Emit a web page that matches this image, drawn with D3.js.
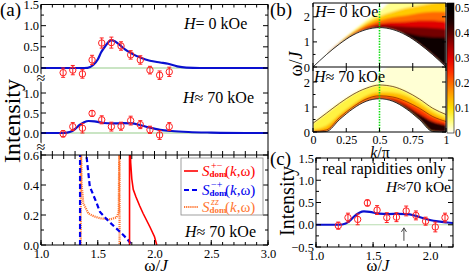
<!DOCTYPE html>
<html>
<head>
<meta charset="utf-8">
<script src="https://cdn.jsdelivr.net/npm/d3@7"></script>
<style>
  body { margin: 0; background: #fff; }
  text { font-family: "Liberation Serif", "Times New Roman", serif; }
</style>
</head>
<body>
<svg id="fig" width="469" height="274"></svg>
<script>
// measured points, panels (a) and (c)
const ptOmega = [1.195, 1.28, 1.365, 1.45, 1.535, 1.62, 1.705, 1.79, 1.875, 1.96, 2.045, 2.13];
const ptZero = [-0.11, -0.05, -0.14, 0.19, 0.59, 0.60, 0.52, 0.31, 0.19, -0.05, -0.17, -0.09];
const errZero = [0.11, 0.11, 0.10, 0.11, 0.12, 0.13, 0.10, 0.10, 0.10, 0.09, 0.10, 0.11];
const ptHigh = [-0.02, 0.16, 0.12, 0.49, 0.33, 0.16, 0.17, 0.31, 0.21, 0.08, -0.05, 0.16];
const errHigh = [0.08, 0.10, 0.12, 0.07, 0.10, 0.11, 0.10, 0.11, 0.10, 0.09, 0.11, 0.10];

// theory curves (blue)
const fitZeroX = [1.0, 1.35, 1.41, 1.46, 1.5, 1.53, 1.57, 1.6, 1.62, 1.65, 1.69, 1.74, 1.8, 1.88, 1.96, 2.05, 2.12, 2.2, 2.28, 2.4, 3.0];
const fitZeroY = [0, 0, 0.005, 0.07, 0.2, 0.37, 0.53, 0.63, 0.66, 0.63, 0.55, 0.44, 0.34, 0.24, 0.17, 0.13, 0.1, 0.04, 0.01, 0, 0];
const fitHighX = [1.0, 1.2, 1.26, 1.3, 1.34, 1.38, 1.42, 1.47, 1.55, 1.63, 1.72, 1.8, 1.87, 1.95, 2.05, 2.15, 2.3, 2.5, 2.8, 3.0];
const fitHighY = [0, 0, 0.03, 0.1, 0.2, 0.27, 0.3, 0.29, 0.25, 0.24, 0.245, 0.24, 0.2, 0.14, 0.08, 0.05, 0.025, 0.01, 0, 0];

// dynamical structure factors, bottom of (a)
const pmX = [1.78, 1.78, 1.785, 1.79, 1.80, 1.813, 1.837, 1.87, 1.90, 1.96, 2.0, 2.02];
const pmY = [0, 0.7, 0.7, 0.55, 0.44, 0.37, 0.32, 0.26, 0.21, 0.12, 0.055, 0];
const mpX = [1.344, 1.344, 1.395, 1.40, 1.43, 1.49, 1.52, 1.60, 1.70, 1.76, 1.80];
const mpY = [0, 0.7, 0.7, 0.6, 0.39, 0.28, 0.22, 0.155, 0.085, 0.04, 0];
const zzX = [1.35, 1.35, 1.353, 1.358, 1.373, 1.417, 1.47, 1.52, 1.608, 1.667, 1.685, 1.69, 1.692, 1.692];
const zzY = [0, 0.7, 0.7, 0.4, 0.278, 0.21, 0.19, 0.178, 0.171, 0.184, 0.22, 0.7, 0.7, 0];

// panel (b): continuum read as contour bands (upper omega of each level)
const kGrid = [0, 0.1, 0.2, 0.3, 0.4, 0.5, 0.6, 0.7, 0.8, 0.9, 1];
const zeroEdge = [0, 0.49, 0.92, 1.27, 1.49, 1.57, 1.49, 1.27, 0.92, 0.49, 0];
const zeroLevels = [0.04, 0.12, 0.2, 0.3, 0.38, 0.47];
const zeroTops = [
  [0, 0.5, 0.98, 1.43, 1.85, 2.22, 2.6, 2.6, 2.6, 2.6, 2.6],
  [0, 0.49, 0.96, 1.38, 1.75, 2.02, 2.2, 2.35, 2.45, 2.55, 2.6],
  [0, 0.49, 0.95, 1.34, 1.65, 1.85, 1.98, 2.05, 2.15, 2.2, 2.2],
  [0, 0.49, 0.94, 1.31, 1.57, 1.72, 1.78, 1.8, 1.85, 1.85, 1.8],
  [0, 0.49, 0.93, 1.29, 1.53, 1.65, 1.64, 1.6, 1.58, 1.55, 1.5],
  [0, 0.49, 0.93, 1.28, 1.51, 1.61, 1.5, 1.36, 1.25, 1.2, 1.18]
];
const highEdge = [0, 0.02, 0.5, 0.93, 1.23, 1.33, 1.23, 0.93, 0.5, 0.02, 0];
const highLevels = [0.015, 0.07, 0.13, 0.24, 0.44];
const highTops = [
  [0.4, 0.8, 1.2, 1.52, 1.76, 2.3, 2.7, 2.7, 2.7, 2.7, 2.7],
  [0.35, 0.75, 1.15, 1.5, 1.75, 1.88, 1.82, 1.62, 1.32, 0.95, 0.7],
  [0.1, 0.25, 0.7, 1.1, 1.45, 1.6, 1.58, 1.45, 1.15, 0.8, 0.55],
  [0.02, 0.08, 0.58, 1.0, 1.32, 1.45, 1.4, 1.22, 0.95, 0.62, 0.42],
  [0, 0.02, 0.5, 0.93, 1.24, 1.35, 1.28, 1.05, 0.72, 0.42, 0.28]
];
const cbTicks = [0, 0.1, 0.2, 0.3, 0.4, 0.5];
const arrowAt = 1.77;

const svg = d3.select("#fig");
const defs = svg.append("defs");
const blue = "#0a10d0", red = "#ff2020", orange = "#ff7733", green = "#b9dcb0";

function hTicks(g, scale, vals, y, len) {
  g.append("g").selectAll("line").data(vals).enter().append("line")
    .attr("x1", d => scale(d)).attr("x2", d => scale(d))
    .attr("y1", y).attr("y2", y + len).attr("stroke", "#000");
}
function vTicks(g, scale, vals, x, len) {
  g.append("g").selectAll("line").data(vals).enter().append("line")
    .attr("y1", d => scale(d)).attr("y2", d => scale(d))
    .attr("x1", x).attr("x2", x + len).attr("stroke", "#000");
}
function labels(g, axis, tx, ty, size) {
  const a = g.append("g").attr("transform", `translate(${tx},${ty})`).call(axis);
  a.select(".domain").remove();
  a.selectAll("text").attr("font-size", size).attr("font-family", '"Liberation Serif", serif').attr("fill", "#000");
  return a;
}
function rich(g, x, y, parts, size, anchor) {
  const t = g.append("text").attr("x", x).attr("y", y).attr("font-size", size)
    .attr("text-anchor", anchor || "start");
  parts.forEach(p => t.append("tspan").attr("font-style", p[1] ? "italic" : null).text(p[0]));
  return t;
}
function points(g, x, y, vals, errs) {
  const p = g.append("g").selectAll("g").data(ptOmega).enter().append("g");
  p.append("line").attr("x1", d => x(d)).attr("x2", d => x(d))
    .attr("y1", (d, i) => y(vals[i] - errs[i])).attr("y2", (d, i) => y(vals[i] + errs[i]))
    .attr("stroke", red).attr("stroke-width", 1);
  [-1, 1].forEach(s => p.append("line")
    .attr("x1", d => x(d) - 2).attr("x2", d => x(d) + 2)
    .attr("y1", (d, i) => y(vals[i] + s * errs[i])).attr("y2", (d, i) => y(vals[i] + s * errs[i]))
    .attr("stroke", red));
  p.append("circle").attr("cx", d => x(d)).attr("cy", (d, i) => y(vals[i]))
    .attr("r", 3.2).attr("fill", "none").attr("stroke", red).attr("stroke-width", 1);
}

// ================= panel (a) =================
const xA = d3.scaleLinear().domain([1, 3]).range([41, 268]);
const yTop = d3.scaleLinear().domain([0, 1.5]).range([68, 4.5]);
const yMid = d3.scaleLinear().domain([0, 1]).range([133, 93]);
const yBot = d3.scaleLinear().domain([0, 0.6]).range([245, 155]);
const gA = svg.append("g");

[yTop, yMid].forEach(y => gA.append("line").attr("x1", xA(1)).attr("x2", xA(3))
  .attr("y1", y(0)).attr("y2", y(0)).attr("stroke", green).attr("stroke-width", 1.3));

const fitLine = y => d3.line().x(d => xA(d[0])).y(d => y(d[1])).curve(d3.curveMonotoneX);
gA.append("path").attr("d", fitLine(yTop)(d3.zip(fitZeroX, fitZeroY)))
  .attr("fill", "none").attr("stroke", blue).attr("stroke-width", 2.2);
gA.append("path").attr("d", fitLine(yMid)(d3.zip(fitHighX, fitHighY)))
  .attr("fill", "none").attr("stroke", blue).attr("stroke-width", 2.2);
points(gA, xA, yTop, ptZero, errZero);
points(gA, xA, yMid, ptHigh, errHigh);

defs.append("clipPath").attr("id", "clipBot").append("rect")
  .attr("x", 41).attr("y", 155).attr("width", 227).attr("height", 90);
const sLine = d3.line().x(d => xA(d[0])).y(d => yBot(d[1]));
const gBot = gA.append("g").attr("clip-path", "url(#clipBot)");
gBot.append("path").attr("d", sLine(d3.zip(zzX, zzY))).attr("fill", "none")
  .attr("stroke", orange).attr("stroke-width", 2.2).attr("stroke-dasharray", "1.2,0.9");
gBot.append("path").attr("d", sLine(d3.zip(mpX, mpY))).attr("fill", "none")
  .attr("stroke", "#0000ee").attr("stroke-width", 2.2).attr("stroke-dasharray", "5,3");
gBot.append("path").attr("d", sLine(d3.zip(pmX, pmY))).attr("fill", "none")
  .attr("stroke", "#ff0000").attr("stroke-width", 1.6);

// frame + ticks
gA.append("path").attr("d", "M41,4.5H268V245H41Z M41,155H268").attr("fill", "none").attr("stroke", "#000");
const minorX = d3.range(1, 3.001, 0.1), majorX = [1, 1.5, 2, 2.5, 3];
hTicks(gA, xA, minorX, 4.5, 3); hTicks(gA, xA, majorX, 4.5, 5);
hTicks(gA, xA, minorX, 245, -3); hTicks(gA, xA, majorX, 245, -5);
hTicks(gA, xA, minorX, 151, 8);
[[yTop, [0, 0.5, 1, 1.5], [0.25, 0.75, 1.25]], [yMid, [0, 0.5, 1], [0.25, 0.75]],
 [yBot, [0, 0.2, 0.4, 0.6], [0.1, 0.3, 0.5]]].forEach(([y, maj, min]) => {
  vTicks(gA, y, maj, 41, 5); vTicks(gA, y, min, 41, 3);
  vTicks(gA, y, maj, 268, -5); vTicks(gA, y, min, 268, -3);
  labels(gA, d3.axisLeft(y).tickValues(maj).tickSize(0).tickPadding(2).tickFormat(d3.format(".1f")), 41, 0, 12.5);
});
labels(gA, d3.axisBottom(xA).tickValues(majorX).tickSize(0).tickPadding(4).tickFormat(d3.format(".1f")), 0, 245, 12.5);
[77, 146].forEach(y => gA.append("text").attr("x", 41).attr("y", y + 6).attr("text-anchor", "middle")
  .attr("font-size", 16).attr("stroke", "#fff").attr("stroke-width", 3).attr("paint-order", "stroke").text("≈"));

// legend
gA.append("rect").attr("x", 181).attr("y", 158).attr("width", 82).attr("height", 57)
  .attr("fill", "#fff").attr("stroke", "#888").attr("stroke-width", 0.8);
const legend = [
  { y: 176, color: "#ff0000", sup: "+\u2212", dash: null, w: 1.6 },
  { y: 195, color: "#0000ee", sup: "\u2212+", dash: "5,3", w: 2.2 },
  { y: 212, color: orange, sup: "zz", dash: "1.2,0.9", w: 2.2 }
];
legend.forEach(e => {
  gA.append("line").attr("x1", 184).attr("x2", 198).attr("y1", e.y - 5).attr("y2", e.y - 5)
    .attr("stroke", e.color).attr("stroke-width", e.w).attr("stroke-dasharray", e.dash);
  const t = gA.append("text").attr("fill", e.color).attr("font-size", 15);
  t.append("tspan").attr("x", 202).attr("y", e.y).attr("font-style", "italic").text("S");
  t.append("tspan").attr("x", 211).attr("y", e.y - 7).attr("font-size", 10)
    .attr("font-style", e.sup === "zz" ? "italic" : null).text(e.sup);
  t.append("tspan").attr("x", 209.5).attr("y", e.y + 1).attr("font-size", 9).attr("font-weight", "bold").text("dom");
  t.append("tspan").attr("x", 225).attr("y", e.y).text("(");
  t.append("tspan").attr("font-style", "italic").text("k");
  t.append("tspan").text(",\u03c9)");
});

rich(gA, 184, 29, [["H", 1], ["= 0 kOe"]], 16);
rich(gA, 183, 103, [["H", 1], ["\u2248 70 kOe"]], 16);
rich(gA, 185, 237, [["H", 1], ["\u2248 70 kOe"]], 16);
rich(gA, 156, 271, [["\u03c9/"], ["J", 1]], 17, "middle");
svg.append("text").attr("transform", "translate(20,121) rotate(-90)").attr("text-anchor", "middle")
  .attr("font-size", 24).text("Intensity");
svg.append("text").attr("x", 0).attr("y", 16).attr("font-size", 19).text("(a)");

// ================= panel (b) =================
const xB = d3.scaleLinear().domain([0, 1]).range([313, 446]);
const yB0 = d3.scaleLinear().domain([0, 2.55]).range([67, 3]);
const yB1 = d3.scaleLinear().domain([0, 2.6]).range([132, 67]);
const cmap = d3.scaleLinear()
  .domain([0, 0.05, 0.1, 0.15, 0.2, 0.25, 0.3, 0.35, 0.4, 0.45, 0.5])
  .range(["#ffffff", "#ffff70", "#ffe000", "#ffa800", "#ff6a00", "#ff2800", "#e00000", "#a00000", "#560000", "#180000", "#000000"])
  .clamp(true);
const gB = svg.append("g");
const blur = defs.append("filter").attr("id", "soft").attr("x", "-5%").attr("y", "-5%").attr("width", "110%").attr("height", "110%");
blur.append("feGaussianBlur").attr("stdDeviation", 1);

const kLine = y => d3.line().x((d, i) => xB(kGrid[i])).y(d => y(d)).curve(d3.curveMonotoneX);
function continuum(id, y, edge, levels, tops, top) {
  const above = d3.area().x((d, i) => xB(kGrid[i])).y0(d => y(d)).y1(top).curve(d3.curveMonotoneX);
  defs.append("clipPath").attr("id", id).append("path").attr("d", above(edge));
  const holder = gB.append("g").attr("clip-path", `url(#${id})`).append("g").attr("filter", "url(#soft)");
  const band = d3.area().x((d, i) => xB(kGrid[i])).y0((d, i) => y(edge[i])).y1(d => y(d)).curve(d3.curveMonotoneX);
  levels.forEach((lv, j) => holder.append("path").attr("d", band(tops[j])).attr("fill", cmap(lv)));
  gB.append("path").attr("d", kLine(y)(edge)).attr("fill", "none").attr("stroke", "#000").attr("stroke-width", 0.8);
}
continuum("cz", yB0, zeroEdge, zeroLevels, zeroTops, 3);
continuum("ch", yB1, highEdge, highLevels, highTops, 67);
gB.append("path").attr("d", kLine(yB1)(highTops[1])).attr("fill", "none").attr("stroke", "#4a1800").attr("stroke-width", 0.7);
gB.append("path").attr("d", kLine(yB1)(highTops[3])).attr("fill", "none").attr("stroke", "#7a1000").attr("stroke-width", 0.6);
gB.append("line").attr("x1", xB(0.5)).attr("x2", xB(0.5)).attr("y1", 3).attr("y2", 132)
  .attr("stroke", "#10e010").attr("stroke-width", 1.6).attr("stroke-dasharray", "1.5,1.2");

gB.append("path").attr("d", "M313,3H446V132H313Z M313,67H446").attr("fill", "none").attr("stroke", "#000");
const kMaj = [0, 0.25, 0.5, 0.75, 1];
hTicks(gB, xB, kMaj, 132, -4); hTicks(gB, xB, kMaj, 3, 4); hTicks(gB, xB, kMaj, 63, 8);
[yB0, yB1].forEach(y => {
  vTicks(gB, y, [0, 1, 2], 313, 4); vTicks(gB, y, [0.5, 1.5], 313, 2.5);
  vTicks(gB, y, [0, 1, 2], 446, -4);
  labels(gB, d3.axisLeft(y).tickValues([0, 1, 2]).tickSize(0).tickPadding(3).tickFormat(d3.format("d")), 313, 0, 12.5);
});
labels(gB, d3.axisBottom(xB).tickValues(kMaj).tickSize(0).tickPadding(3).tickFormat(d => String(d)), 0, 132, 12);

// colorbar
const cbY = d3.scaleLinear().domain([0, 0.52]).range([133, 3]);
const grad = defs.append("linearGradient").attr("id", "cb").attr("x1", 0).attr("y1", 1).attr("x2", 0).attr("y2", 0);
d3.range(0, 0.5201, 0.02).forEach(v => grad.append("stop").attr("offset", v / 0.52).attr("stop-color", cmap(v)));
gB.append("rect").attr("x", 447).attr("y", 3).attr("width", 7).attr("height", 130)
  .attr("fill", "url(#cb)").attr("stroke", "#000").attr("stroke-width", 0.6);
labels(gB, d3.axisRight(cbY).tickValues(cbTicks).tickSize(0).tickPadding(1).tickFormat(d => d === 0 ? "0" : d3.format(".1f")(d)), 454, 0, 11.5);

rich(gB, 315, 17, [["H", 1], ["= 0 kOe"]], 16);
rich(gB, 314, 82, [["H", 1], ["\u2248 70 kOe"]], 16);
rich(gB, 380, 158, [["k", 1], ["/\u03c0"]], 16, "middle");
svg.append("text").attr("transform", "translate(302,64) rotate(-90)").attr("text-anchor", "middle")
  .attr("font-size", 18).call(t => { t.append("tspan").text("\u03c9/"); t.append("tspan").attr("font-style", "italic").text("J"); });
svg.append("text").attr("x", 270).attr("y", 16).attr("font-size", 19).text("(b)");

// ================= panel (c) =================
const xC = d3.scaleLinear().domain([1, 2.2]).range([316, 453]);
const yC = d3.scaleLinear().domain([-0.5, 1.5]).range([247, 158]);
const gC = svg.append("g");
defs.append("clipPath").attr("id", "clipC").append("rect").attr("x", 316).attr("y", 158).attr("width", 137).attr("height", 89);
gC.append("line").attr("x1", 316).attr("x2", 453).attr("y1", yC(0)).attr("y2", yC(0))
  .attr("stroke", green).attr("stroke-width", 1.2);
gC.append("path").attr("d", d3.line().x(d => xC(d[0])).y(d => yC(d[1])).curve(d3.curveMonotoneX)(d3.zip(fitHighX, fitHighY).filter(d => d[0] <= 2.3)))
  .attr("fill", "none").attr("stroke", blue).attr("stroke-width", 2.2).attr("clip-path", "url(#clipC)");
points(gC, xC, yC, ptHigh, errHigh);
gC.append("line").attr("x1", xC(arrowAt)).attr("x2", xC(arrowAt)).attr("y1", yC(-0.36)).attr("y2", yC(-0.07))
  .attr("stroke", "#333").attr("stroke-width", 0.9);
gC.append("path").attr("d", `M${xC(arrowAt) - 2.5},${yC(-0.07) + 4}L${xC(arrowAt)},${yC(-0.07)}L${xC(arrowAt) + 2.5},${yC(-0.07) + 4}`)
  .attr("fill", "none").attr("stroke", "#333").attr("stroke-width", 0.9);

gC.append("rect").attr("x", 316).attr("y", 158).attr("width", 137).attr("height", 89).attr("fill", "none").attr("stroke", "#000");
const cMajX = [1, 1.5, 2], cMinX = d3.range(1, 2.201, 0.1);
hTicks(gC, xC, cMinX, 247, -3); hTicks(gC, xC, cMajX, 247, -5);
hTicks(gC, xC, cMinX, 158, 3); hTicks(gC, xC, cMajX, 158, 5);
const cMajY = [-0.5, 0, 0.5, 1, 1.5], cMinY = [-0.25, 0.25, 0.75, 1.25];
vTicks(gC, yC, cMajY, 316, 5); vTicks(gC, yC, cMinY, 316, 3);
vTicks(gC, yC, cMajY, 453, -5); vTicks(gC, yC, cMinY, 453, -3);
labels(gC, d3.axisLeft(yC).tickValues(cMajY).tickSize(0).tickPadding(2).tickFormat(d3.format(".1f")), 316, 0, 12.5);
labels(gC, d3.axisBottom(xC).tickValues(cMajX).tickSize(0).tickPadding(4).tickFormat(d3.format(".1f")), 0, 247, 12.5);

gC.append("text").attr("x", 384).attr("y", 174).attr("text-anchor", "middle").attr("font-size", 16.5).text("real rapidities only");
rich(gC, 451, 192, [["H", 1], ["\u224870 kOe"]], 15.5, "end");
rich(gC, 378, 271, [["\u03c9/"], ["J", 1]], 16.5, "middle");
svg.append("text").attr("transform", "translate(294,201) rotate(-90)").attr("text-anchor", "middle")
  .attr("font-size", 20).text("Intensity");
svg.append("text").attr("x", 270).attr("y", 165).attr("font-size", 19).text("(c)");
</script>
</body>
</html>
